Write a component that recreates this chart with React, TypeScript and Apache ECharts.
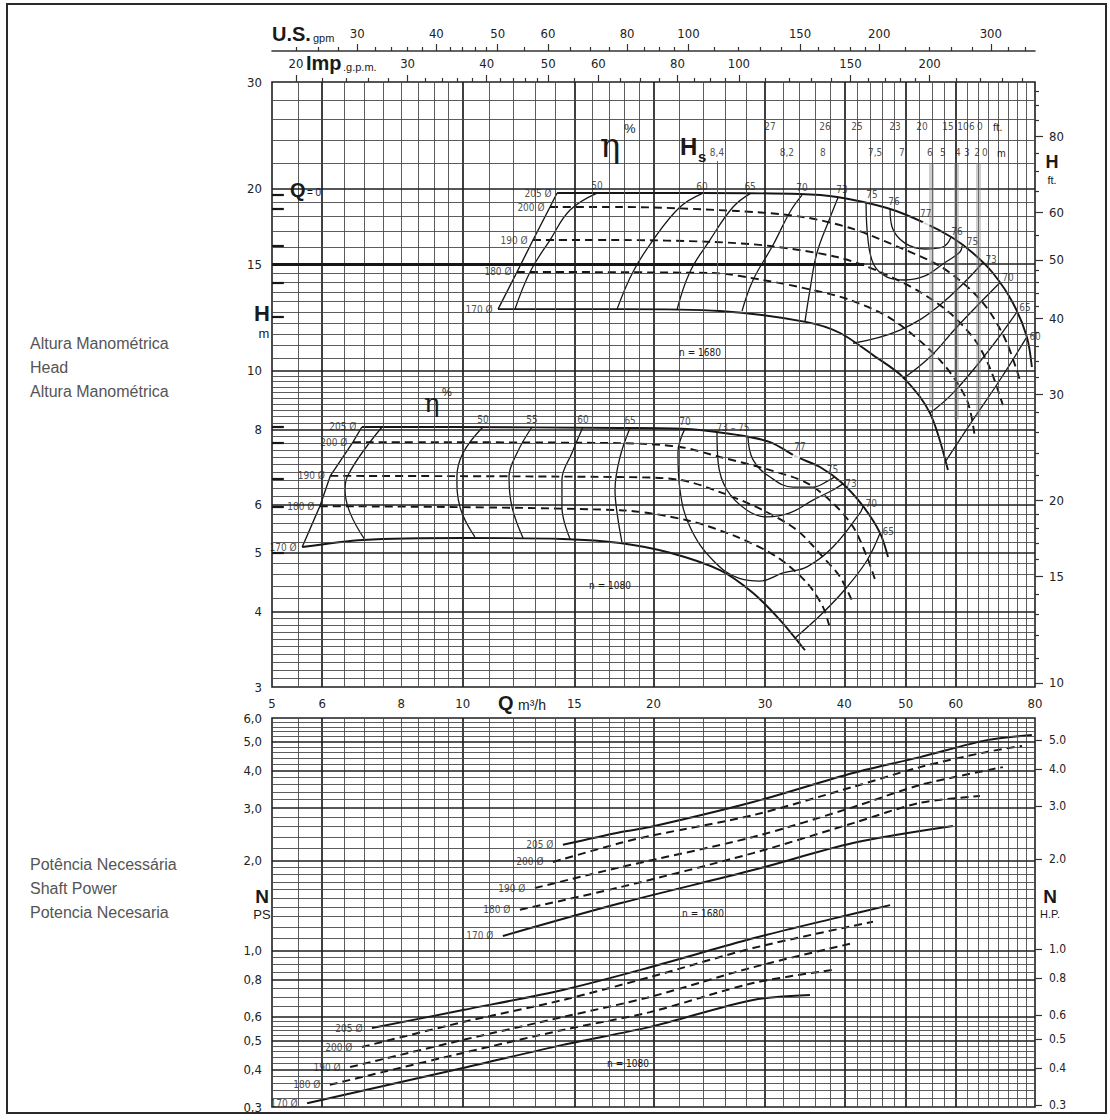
import React, { useEffect, useRef } from 'react';
import * as echarts from 'echarts';

// ---------- unit conversions ----------
const FT_PER_M = 3.28084;
const USGPM_PER_M3H = 4.40287;
const IMPGPM_PER_M3H = 3.66614;
const HP_PER_PS = 0.98632;

// ---------- axis tick labels ----------
const qAxisLabels = [5, 6, 8, 10, 15, 20, 30, 40, 50, 60, 80];
const hAxisLabels = [3, 4, 5, 6, 8, 10, 15, 20, 30];
const ftAxisLabels = [10, 15, 20, 30, 40, 50, 60, 80];
const ftMinorTicks = [11, 12, 13, 14, 16, 17, 18, 19, 22, 24, 26, 28, 32, 34, 36, 38, 42, 44, 46, 48, 55, 65, 70, 75, 85, 90, 95];
const nAxisLabels = [0.3, 0.4, 0.5, 0.6, 0.8, 1, 2, 3, 4, 5, 6];
const hpAxisLabels = [0.3, 0.4, 0.5, 0.6, 0.8, 1, 2, 3, 4, 5];
const usGpmLabels = [30, 40, 50, 60, 80, 100, 150, 200, 300];
const usGpmMinor = [24, 26, 28, 32, 34, 36, 38, 42, 44, 46, 48, 55, 65, 70, 75, 85, 90, 95, 110, 120, 130, 140, 160, 170, 180, 190, 220, 240, 260, 280, 320, 340];
const impGpmLabels = [20, 30, 40, 50, 60, 80, 100, 150, 200];
const impGpmMinor = [22, 24, 26, 28, 32, 34, 36, 38, 42, 44, 46, 48, 55, 65, 70, 75, 85, 90, 95, 110, 120, 130, 140, 160, 170, 180, 190, 220, 240, 260, 280];

// ---------- chart-paper grid values ----------
const gridQMinor = [5.5, 6.5, 7, 7.5, 8, 8.5, 9, 9.5, 11, 12, 13, 14, 16, 17, 18, 19, 22, 24, 26, 28, 32, 34, 36, 38, 42, 44, 46, 48, 52.5, 55, 57.5, 62.5, 65, 67.5, 70, 72.5, 75, 77.5];
const gridQMajor = [6, 10, 15, 20, 30, 40, 50, 60];
const gridHMinor = [3.1, 3.2, 3.3, 3.4, 3.5, 3.6, 3.7, 3.8, 3.9, 4.2, 4.4, 4.6, 4.8, 5.2, 5.4, 5.6, 5.8, 6.2, 6.4, 6.6, 6.8, 7, 7.2, 7.4, 7.6, 7.8, 8.2, 8.4, 8.6, 8.8, 9, 9.2, 9.4, 9.6, 9.8, 10.5, 11, 11.5, 12, 12.5, 13, 13.5, 14, 14.5, 16, 17, 18, 19, 22, 24, 26, 28];
const gridHMajor = [4, 5, 6, 8, 10, 15, 20];
const gridNMinor = [0.32, 0.34, 0.36, 0.38, 0.42, 0.44, 0.46, 0.48, 0.52, 0.54, 0.56, 0.58, 0.65, 0.7, 0.75, 0.85, 0.9, 0.95, 1.1, 1.2, 1.3, 1.4, 1.5, 1.6, 1.7, 1.8, 1.9, 2.2, 2.4, 2.6, 2.8, 3.2, 3.4, 3.6, 3.8, 4.2, 4.4, 4.6, 4.8, 5.2, 5.4, 5.6, 5.8];
const gridNMajor = [0.4, 0.5, 0.6, 0.8, 1, 2, 3, 4, 5];

// ---------- impeller diameters ----------
const diameters = [205, 200, 190, 180, 170];
const dashedDiam = [false, true, true, true, false];

// shut-off heads (Q = 0), m
const shutoff1680 = [19.5, 18.5, 16.07, 13.96, 12.3];
const shutoff1080 = [8.07, 7.59, 6.62, 5.95, 5.0];

// ---------- H-Q, n = 1680 ----------
const hq1680_205 = [[14.09, 19.66], [17.7, 19.66], [23.7, 19.66], [34.0, 19.59], [38.97, 19.37], [46.73, 18.57], [53.63, 17.54], [59.37, 16.57], [63.84, 15.65], [68.65, 14.5], [73.83, 12.94], [77.68, 11.37], [79.1, 10.14]];
const hq1680_200 = [[13.73, 18.64], [17.71, 18.64], [27.1, 18.36], [34.43, 17.95], [41.3, 17.15], [49.51, 15.89], [56.63, 14.89], [63.15, 13.64], [67.91, 12.5], [72.24, 11.11], [75.73, 9.65]];
const hq1680_190 = [[12.91, 16.44], [17.71, 16.44], [24.82, 16.32], [30.55, 16.07], [38.97, 15.41], [45.56, 14.56], [52.67, 13.49], [58.73, 12.45], [64.31, 11.24], [67.91, 10.1], [71.19, 8.77]];
const hq1680_180 = [[12.18, 14.56], [24.82, 14.5], [29.78, 14.12], [35.7, 13.59], [40.85, 13.09], [47.76, 12.13], [56.63, 10.41], [62.47, 8.94], [64.31, 7.74]];
const hq1680_170 = [[11.37, 12.64], [17.71, 12.64], [25.46, 12.55], [34.93, 12.03], [39.4, 11.54], [44.41, 10.61], [49.51, 9.76], [54.62, 8.51], [58.3, 6.85]];
const hq1680 = [hq1680_205, hq1680_200, hq1680_190, hq1680_180, hq1680_170];

// efficiency (%) lines, n = 1680
const eff1680_50 = [[16.29, 19.66], [14.77, 18.43], [13.73, 16.44], [12.77, 14.56], [12.09, 12.64]];
const eff1680_60 = [[23.85, 19.62], [22.02, 18.64], [19.97, 16.44], [18.56, 14.56], [17.52, 12.64]];
const eff1680_65 = [[28.41, 19.62], [26.7, 18.64], [24.55, 16.44], [22.83, 14.56], [21.78, 12.6]];
const eff1680_70 = [[34.3, 19.5], [32.84, 18.29], [30.88, 16.13], [28.72, 14.12], [27.59, 12.55]];
const eff1680_73 = [[39.11, 19.33], [37.97, 17.88], [36.22, 15.65], [35.31, 13.59], [34.68, 12.05]];
const eff1680_75 = [[43.3, 19.0], [43.61, 16.44], [44.56, 14.95], [46.73, 14.28], [49.87, 14.12], [53.63, 14.34], [57.25, 15.01], [60.9, 15.71], [61.4, 16.1]];
const eff1680_76 = [[47.25, 18.5], [47.59, 17.28], [49.87, 16.25], [53.63, 15.89], [57.25, 16.01], [58.94, 16.6]];
const eff1680_73R = [[66.2, 15.08], [56.63, 12.84], [48.99, 11.67], [41.3, 11.1]];
const eff1680_70R = [[70.4, 13.97], [60.24, 11.81], [54.62, 10.53], [49.51, 9.7]];
const eff1680_65R = [[74.9, 12.5], [67.17, 10.7], [59.37, 9.18], [54.62, 8.51]];
const eff1680_60R = [[77.68, 11.37], [70.42, 9.65], [63.84, 8.29], [57.9, 7.1]];
const best1680 = [53.8, 17.45];

// ---------- H-Q, n = 1080 ----------
const hq1080_205 = [[6.93, 8.07], [9.55, 8.07], [17.71, 8.04], [22.59, 8.01], [27.1, 7.83], [30.55, 7.62], [33.68, 7.2], [36.62, 6.93], [39.69, 6.52], [42.83, 5.97], [45.56, 5.39], [46.9, 4.92]];
const hq1080_200 = [[6.71, 7.62], [17.71, 7.59], [22.02, 7.48], [25.46, 7.2], [30.55, 6.85], [34.93, 6.52], [38.39, 6.04], [41.3, 5.52], [43.46, 4.92], [44.74, 4.51]];
const hq1080_190 = [[6.18, 6.7], [17.71, 6.67], [22.02, 6.6], [25.46, 6.3], [29.78, 5.88], [33.68, 5.45], [37.02, 4.92], [39.4, 4.56], [41.3, 4.13]];
const hq1080_180 = [[5.95, 5.97], [17.71, 5.88], [22.59, 5.66], [27.1, 5.31], [31.33, 4.92], [34.93, 4.46], [37.02, 4.07], [37.97, 3.75]];
const hq1080_170 = [[5.58, 5.11], [6.96, 5.25], [10.01, 5.29], [14.39, 5.27], [17.71, 5.19], [21.23, 5.0], [25.46, 4.68], [28.72, 4.29], [31.68, 3.87], [34.68, 3.45]];
const hq1080 = [hq1080_205, hq1080_200, hq1080_190, hq1080_180, hq1080_170];

const eff1080_40 = [[7.46, 8.07], [6.57, 6.67], [6.52, 6.35], [6.64, 5.82], [7.01, 5.25]];
const eff1080_50 = [[10.76, 8.07], [10.01, 7.31], [9.79, 6.67], [9.9, 5.95], [10.45, 5.31]];
const eff1080_55 = [[12.86, 8.07], [12.18, 7.31], [11.83, 6.67], [11.96, 5.95], [12.45, 5.29]];
const eff1080_60 = [[15.48, 8.07], [14.87, 7.31], [14.34, 6.6], [14.34, 5.95], [14.77, 5.27]];
const eff1080_65 = [[18.37, 8.05], [17.71, 7.2], [17.39, 6.35], [17.52, 5.82], [17.84, 5.19]];
const eff1080_70 = [[22.42, 8.02], [21.86, 7.31], [22.02, 6.35], [22.83, 5.52], [24.82, 4.86], [27.39, 4.53], [29.46, 4.49], [32.02, 4.63], [34.93, 4.74], [38.39, 5.11], [42.36, 5.82], [42.83, 5.97]];
const eff1080_73 = [[25.19, 7.91], [25.3, 7.04], [26.12, 6.35], [28.09, 5.88], [30.2, 5.73], [32.84, 5.82], [35.7, 6.11], [38.39, 6.35], [39.8, 6.5]];
const eff1080_75 = [[28.19, 7.76], [28.72, 7.12], [30.55, 6.67], [33.21, 6.42], [35.7, 6.42], [37.97, 6.6], [38.6, 6.67]];
const eff1080_65R = [[45.56, 5.39], [43.46, 4.86], [40.41, 4.39], [37.02, 3.98], [33.5, 3.62]];
const best1080 = [33.56, 7.2];

// ---------- NPSH (Hs) scale ----------
const hsMetres = [8.4, 8.2, 8, 7.5, 7, 6, 5, 4, 3, 2, 0];
const hsMetreQ = [25.19, 32.48, 37.02, 44.74, 49.33, 54.62, 57.25, 60.46, 62.47, 64.8, 66.69];
const hsFeet = [27, 26, 25, 23, 20, 15, 10, 6, 0];
const hsFeetQ = [30.55, 37.3, 41.89, 48.11, 53.05, 58.3, 61.56, 63.61, 65.48];
const hsBandQ = [54.8, 60.2, 65.2];
const hsBandLow = [8.7, 8.3, 8.4];

// ---------- shaft power N (PS) ----------
const pw1680_205 = [[14.39, 2.26], [17.71, 2.49], [19.75, 2.59], [28.72, 3.14], [41.3, 3.93], [52.67, 4.44], [67.17, 5.06], [79.1, 5.26]];
const pw1680_200 = [[13.88, 1.98], [17.71, 2.29], [19.75, 2.42], [28.72, 2.84], [41.3, 3.53], [52.67, 4.11], [67.17, 4.62], [76.3, 4.84]];
const pw1680_190 = [[13.0, 1.62], [17.71, 1.9], [28.72, 2.4], [41.3, 3.02], [52.67, 3.58], [71.19, 4.11]];
const pw1680_180 = [[12.31, 1.37], [17.71, 1.63], [28.72, 2.12], [41.3, 2.67], [52.67, 3.12], [65.48, 3.29]];
const pw1680_170 = [[11.57, 1.12], [17.71, 1.44], [28.72, 1.86], [41.3, 2.29], [59.37, 2.61]];
const pw1680 = [pw1680_205, pw1680_200, pw1680_190, pw1680_180, pw1680_170];

const pw1080_205 = [[7.19, 0.551], [10.01, 0.633], [14.39, 0.739], [19.75, 0.88], [28.72, 1.1], [38.4, 1.28], [47.25, 1.42]];
const pw1080_200 = [[6.93, 0.476], [10.01, 0.577], [14.39, 0.684], [19.75, 0.816], [28.72, 1.02], [44.41, 1.25]];
const pw1080_190 = [[6.64, 0.408], [10.01, 0.503], [14.39, 0.6], [19.75, 0.7], [28.72, 0.88], [41.3, 1.06]];
const pw1080_180 = [[6.17, 0.356], [10.01, 0.455], [14.39, 0.543], [19.75, 0.623], [28.72, 0.779], [38.39, 0.862]];
const pw1080_170 = [[5.68, 0.309], [10.01, 0.405], [14.39, 0.484], [19.75, 0.556], [28.72, 0.684], [35.31, 0.711]];
const pw1080 = [pw1080_205, pw1080_200, pw1080_190, pw1080_180, pw1080_170];

// ---------- styling ----------
const FONT = "'DejaVu Sans Condensed','DejaVu Sans',sans-serif";
const SANS = "'Liberation Sans',Arial,sans-serif";
const INK = '#161616';

function hostGridLines(xIdx: number, yIdx: number, yMin: number, yMax: number, yMinor: number[], yMajor: number[], extra: any[]) {
  const minor = { color: '#4a4a4a', width: 0.9, type: 'solid' };
  const major = { color: '#1e1e1e', width: 1.7, type: 'solid' };
  const v = (q: number, st: any) => [{ coord: [q, yMin], lineStyle: st }, { coord: [q, yMax] }];
  const h = (y: number, st: any) => [{ coord: [5, y], lineStyle: st }, { coord: [80, y] }];
  return {
    type: 'line', xAxisIndex: xIdx, yAxisIndex: yIdx, data: [[5, yMin]], symbol: 'none',
    lineStyle: { opacity: 0 }, silent: true, z: 1,
    markLine: {
      silent: true, symbol: ['none', 'none'], label: { show: false }, animation: false,
      lineStyle: { type: 'solid', color: '#4a4a4a', width: 0.9 },
      emphasis: { disabled: true },
      data: [
        ...gridQMinor.map((q) => v(q, minor)),
        ...gridQMajor.map((q) => v(q, major)),
        ...yMinor.map((y) => h(y, minor)),
        ...yMajor.map((y) => h(y, major)),
        ...extra,
      ],
    },
  };
}

function curve(data: number[][], xIdx: number, yIdx: number, dashed: boolean, width: number, smooth = 0.3) {
  return {
    type: 'line', xAxisIndex: xIdx, yAxisIndex: yIdx, data, symbol: 'none', smooth, silent: true, z: 3,
    lineStyle: { color: INK, width, type: dashed ? [8, 5] : 'solid' },
  };
}

function labels(items: any[], xIdx: number, yIdx: number) {
  return {
    type: 'scatter', xAxisIndex: xIdx, yAxisIndex: yIdx, silent: true, z: 6, clip: false,
    symbol: 'circle', symbolSize: 1, itemStyle: { color: 'rgba(0,0,0,0)' },
    data: items.map((it) => ({
      value: it.at,
      label: {
        show: true, formatter: it.text, position: it.pos || 'top', distance: it.dist ?? 2,
        offset: it.off || [0, 0], fontSize: it.fs || 10, fontFamily: FONT, color: '#222',
      },
    })),
  };
}

function T(x: number, y: number, text: string, o: any = {}) {
  return {
    type: 'text', x, y, silent: true, z: 10,
    style: {
      text, fontSize: o.fs ?? 12, fontFamily: o.ff ?? FONT, fontWeight: o.fw ?? 'normal',
      fill: o.fill ?? '#1a1a1a', align: o.align ?? 'left', verticalAlign: o.va ?? 'middle',
      textAlign: o.align ?? 'left', textVerticalAlign: o.va ?? 'middle',
    },
  };
}

function buildOption() {
  const axisText = { fontFamily: FONT, fontSize: 13, color: '#222' };
  const tickStyle = { color: '#333', width: 1.2 };
  const noSplit = { show: false };
  const comma = (v: number) => v.toFixed(1).replace('.', ',');

  const xAxis = [
    { gridIndex: 0, type: 'log', min: 5, max: 80, position: 'bottom', axisLine: { show: false }, axisTick: { show: false }, splitLine: noSplit,
      axisLabel: { ...axisText, margin: 10, customValues: qAxisLabels } },
    { gridIndex: 0, type: 'log', min: 5 * IMPGPM_PER_M3H, max: 80 * IMPGPM_PER_M3H, position: 'top', axisLine: { show: false }, splitLine: noSplit,
      axisTick: { show: true, customValues: impGpmMinor, length: 4, lineStyle: tickStyle }, axisLabel: { show: false } },
    { gridIndex: 0, type: 'log', min: 5 * IMPGPM_PER_M3H, max: 80 * IMPGPM_PER_M3H, position: 'top', axisLine: { show: false }, splitLine: noSplit,
      axisTick: { show: true, customValues: impGpmLabels, length: 7, lineStyle: tickStyle }, axisLabel: { ...axisText, margin: 12, customValues: impGpmLabels } },
    { gridIndex: 0, type: 'log', min: 5 * USGPM_PER_M3H, max: 80 * USGPM_PER_M3H, position: 'top', offset: 31, splitLine: noSplit,
      axisLine: { show: true, lineStyle: { color: '#333', width: 1.6 } },
      axisTick: { show: true, customValues: usGpmMinor, length: 4, lineStyle: tickStyle }, axisLabel: { show: false } },
    { gridIndex: 0, type: 'log', min: 5 * USGPM_PER_M3H, max: 80 * USGPM_PER_M3H, position: 'top', offset: 31, axisLine: { show: false }, splitLine: noSplit,
      axisTick: { show: true, customValues: usGpmLabels, length: 7, lineStyle: tickStyle }, axisLabel: { ...axisText, margin: 11, customValues: usGpmLabels } },
    { gridIndex: 1, type: 'log', min: 5, max: 80, position: 'bottom', axisLine: { show: false }, axisTick: { show: false }, axisLabel: { show: false }, splitLine: noSplit },
  ];

  const yAxis = [
    { gridIndex: 0, type: 'log', min: 3, max: 30, position: 'left', axisLine: { show: false }, axisTick: { show: false }, splitLine: noSplit,
      axisLabel: { ...axisText, margin: 10, customValues: hAxisLabels } },
    { gridIndex: 0, type: 'log', min: 3 * FT_PER_M, max: 30 * FT_PER_M, position: 'right', axisLine: { show: false }, splitLine: noSplit,
      axisTick: { show: true, customValues: ftMinorTicks, length: 4, lineStyle: tickStyle }, axisLabel: { show: false } },
    { gridIndex: 0, type: 'log', min: 3 * FT_PER_M, max: 30 * FT_PER_M, position: 'right', axisLine: { show: false }, splitLine: noSplit,
      axisTick: { show: true, customValues: ftAxisLabels, length: 8, lineStyle: tickStyle }, axisLabel: { ...axisText, margin: 14, customValues: ftAxisLabels } },
    { gridIndex: 1, type: 'log', min: 0.3, max: 6, position: 'left', axisLine: { show: false }, axisTick: { show: false }, splitLine: noSplit,
      axisLabel: { ...axisText, margin: 10, customValues: nAxisLabels, formatter: comma } },
    { gridIndex: 1, type: 'log', min: 0.3 * HP_PER_PS, max: 6 * HP_PER_PS, position: 'right', axisLine: { show: false }, splitLine: noSplit,
      axisTick: { show: true, customValues: hpAxisLabels, length: 7, lineStyle: tickStyle },
      axisLabel: { ...axisText, fontSize: 12, margin: 14, customValues: hpAxisLabels, formatter: (v: number) => v.toFixed(1) } },
  ];

  const tick = { color: INK, width: 2.2, type: 'solid' };
  const upperExtra = [
    ...shutoff1680.map((h) => [{ coord: [5, h], lineStyle: tick }, { coord: [5.22, h] }]),
    ...shutoff1080.map((h) => [{ coord: [5, h], lineStyle: tick }, { coord: [5.22, h] }]),
    [{ coord: [5, 15], lineStyle: { color: INK, width: 3.2, type: 'solid' } }, { coord: [43, 15] }],
    ...hsBandQ.map((q, i) => [{ coord: [q, 22], lineStyle: { color: 'rgba(130,130,130,0.4)', width: 5, type: 'solid' } }, { coord: [q, hsBandLow[i]] }]),
    [{ coord: [hsMetreQ[0], 22.2], lineStyle: { color: '#555', width: 1, type: 'solid' } }, { coord: [hsMetreQ[0], 12.6] }],
  ];

  const series: any[] = [];
  series.push(hostGridLines(0, 0, 3, 30, gridHMinor, gridHMajor, upperExtra));
  series.push(hostGridLines(5, 3, 0.3, 6, gridNMinor, gridNMajor, []));

  // H-Q curves
  hq1680.forEach((c, i) => series.push(curve(c, 0, 0, dashedDiam[i], 1.9)));
  hq1080.forEach((c, i) => series.push(curve(c, 0, 0, dashedDiam[i], 1.9)));
  // impeller-range boundaries
  series.push(curve(hq1680.map((c) => c[0]), 0, 0, false, 1.4, 0));
  series.push(curve(hq1080.map((c) => c[0]), 0, 0, false, 1.4, 0));
  // efficiency lines
  const effUpper = [eff1680_50, eff1680_60, eff1680_65, eff1680_70, eff1680_73, eff1680_75, eff1680_76, eff1680_73R, eff1680_70R, eff1680_65R, eff1680_60R];
  const effLower = [eff1080_40, eff1080_50, eff1080_55, eff1080_60, eff1080_65, eff1080_70, eff1080_73, eff1080_75, eff1080_65R];
  effUpper.forEach((e) => series.push(curve(e, 0, 0, false, 1.3, 0.4)));
  effLower.forEach((e) => series.push(curve(e, 0, 0, false, 1.3, 0.4)));
  // best-efficiency markers
  series.push({
    type: 'scatter', xAxisIndex: 0, yAxisIndex: 0, silent: true, z: 5, symbol: 'emptyCircle', symbolSize: 6,
    itemStyle: { color: '#fff', borderColor: INK, borderWidth: 1.2 }, data: [best1680, best1080],
  });
  // power curves
  pw1680.forEach((c, i) => series.push(curve(c, 5, 3, dashedDiam[i], 2.0)));
  pw1080.forEach((c, i) => series.push(curve(c, 5, 3, dashedDiam[i], 2.0)));

  // labels: diameters
  const dl = (curves: number[][][], dist: number) => curves.map((c, i) => ({ at: c[0], text: `${diameters[i]} Ø`, pos: 'left', dist }));
  series.push(labels([...dl(hq1680, 5), ...dl(hq1080, 5)], 0, 0));
  series.push(labels([...dl(pw1680, 9), ...dl(pw1080, 9)], 5, 3));

  // labels: efficiencies
  const effLabels = [
    { at: eff1680_50[0], text: '50' }, { at: eff1680_60[0], text: '60' }, { at: eff1680_65[0], text: '65' },
    { at: eff1680_70[0], text: '70' }, { at: eff1680_73[0], text: '73', off: [4, 0] },
    { at: eff1680_75[0], text: '75', off: [6, 0] }, { at: eff1680_76[0], text: '76', off: [4, 0] },
    { at: best1680, text: '77', dist: 5 },
    { at: eff1680_76[eff1680_76.length - 1], text: '76', off: [6, 2] },
    { at: eff1680_75[eff1680_75.length - 1], text: '75', pos: 'right', off: [2, -4] },
    { at: eff1680_73R[0], text: '73', pos: 'right', off: [0, -3] },
    { at: eff1680_70R[0], text: '70', pos: 'right', off: [0, -5] },
    { at: eff1680_65R[0], text: '65', pos: 'right', off: [0, -5] },
    { at: eff1680_60R[0], text: '60', pos: 'right', off: [0, 0] },
    { at: eff1080_50[0], text: '50' }, { at: eff1080_55[0], text: '55' }, { at: eff1080_60[0], text: '60' },
    { at: eff1080_65[0], text: '65' }, { at: eff1080_70[0], text: '70' },
    { at: eff1080_73[0], text: '73 – 75', off: [16, 3] },
    { at: best1080, text: '77', dist: 5, off: [4, 0] },
    { at: eff1080_75[eff1080_75.length - 1], text: '75', off: [-2, 0] },
    { at: eff1080_73[eff1080_73.length - 1], text: '73', pos: 'right', off: [0, 0] },
    { at: eff1080_70[eff1080_70.length - 1], text: '70', pos: 'right', off: [0, -3] },
    { at: eff1080_65R[0], text: '65', pos: 'right', off: [0, -2] },
  ];
  series.push(labels(effLabels, 0, 0));

  // NPSH scale labels
  const hsItems = [
    ...hsFeet.map((f, i) => ({ at: [hsFeetQ[i], 25.3], text: String(f), pos: 'inside', fs: 10 })),
    ...hsMetres.map((m, i) => ({ at: [hsMetreQ[i], 22.9], text: String(m).replace('.', ','), pos: 'inside', fs: 10 })),
  ];
  series.push(labels(hsItems, 0, 0));

  const graphic = [
    { type: 'rect', shape: { x: 7, y: 4, width: 1099, height: 1109 }, style: { fill: 'none', stroke: '#2a2a2a', lineWidth: 2 }, silent: true, z: 0 },
    // top scales titles
    T(272, 34, 'U.S.', { fs: 20, fw: 'bold', ff: SANS }),
    T(313, 38, 'gpm', { fs: 11, ff: SANS }),
    T(306, 63, 'Imp', { fs: 20, fw: 'bold', ff: SANS }),
    T(343, 67, '.g.p.m.', { fs: 11, ff: SANS }),
    // axis titles
    T(262, 313, 'H', { fs: 22, fw: 'bold', ff: SANS, align: 'center' }),
    T(264, 333, 'm', { fs: 13, ff: SANS, align: 'center' }),
    T(1052, 162, 'H', { fs: 18, fw: 'bold', ff: SANS, align: 'center' }),
    T(1052, 180, 'ft.', { fs: 11, ff: SANS, align: 'center' }),
    T(262, 896, 'N', { fs: 19, fw: 'bold', ff: SANS, align: 'center' }),
    T(262, 914, 'PS', { fs: 13, ff: SANS, align: 'center' }),
    T(1050, 896, 'N', { fs: 19, fw: 'bold', ff: SANS, align: 'center' }),
    T(1050, 914, 'H.P.', { fs: 11, ff: SANS, align: 'center' }),
    T(498, 703, 'Q', { fs: 20, fw: 'bold', ff: SANS }),
    T(518, 705, 'm³/h', { fs: 14, ff: SANS }),
    T(290, 190, 'Q', { fs: 20, fw: 'bold', ff: SANS }),
    T(307, 192, '= 0', { fs: 10, ff: SANS }),
    // eta and Hs
    T(600, 145, 'η', { fs: 34, ff: "'DejaVu Serif',serif" }),
    T(624, 128, '%', { fs: 13, ff: SANS }),
    T(424, 403, 'η', { fs: 26, ff: "'DejaVu Serif',serif" }),
    T(442, 392, '%', { fs: 11, ff: SANS }),
    T(680, 146, 'H', { fs: 24, fw: 'bold', ff: SANS }),
    T(698, 156, 's', { fs: 15, fw: 'bold', ff: SANS }),
    T(993, 127, 'ft.', { fs: 10, ff: FONT }),
    T(997, 153, 'm', { fs: 10, ff: FONT }),
    // speeds
    T(700, 352, 'n = 1680', { fs: 10, align: 'center' }),
    T(610, 585, 'n = 1080', { fs: 10, align: 'center' }),
    T(703, 913, 'n = 1680', { fs: 10, align: 'center' }),
    T(628, 1063, 'n = 1080', { fs: 10, align: 'center' }),
    // side captions
    T(30, 343, 'Altura Manométrica', { fs: 16, ff: SANS, fill: '#555' }),
    T(30, 367, 'Head', { fs: 16, ff: SANS, fill: '#555' }),
    T(30, 391, 'Altura Manométrica', { fs: 16, ff: SANS, fill: '#555' }),
    T(30, 864, 'Potência Necessária', { fs: 16, ff: SANS, fill: '#555' }),
    T(30, 888, 'Shaft Power', { fs: 16, ff: SANS, fill: '#555' }),
    T(30, 912, 'Potencia Necesaria', { fs: 16, ff: SANS, fill: '#555' }),
  ];

  return {
    animation: false,
    backgroundColor: '#fff',
    textStyle: { fontFamily: FONT },
    grid: [
      { left: 272, top: 82, width: 763, height: 605, show: true, borderColor: '#1e1e1e', borderWidth: 1.6, backgroundColor: 'transparent' },
      { left: 272, top: 718, width: 763, height: 389, show: true, borderColor: '#1e1e1e', borderWidth: 1.6, backgroundColor: 'transparent' },
    ],
    xAxis,
    yAxis,
    series,
    graphic,
  };
}

export default function App() {
  const ref = useRef<HTMLDivElement>(null);
  useEffect(() => {
    if (!ref.current) return;
    const chart = echarts.init(ref.current, null, { renderer: 'svg', width: 1110, height: 1120 });
    chart.setOption(buildOption() as any);
    return () => chart.dispose();
  }, []);
  return <div ref={ref} style={{ position: 'absolute', left: 0, top: 0, width: 1110, height: 1120, background: '#fff' }} />;
}
